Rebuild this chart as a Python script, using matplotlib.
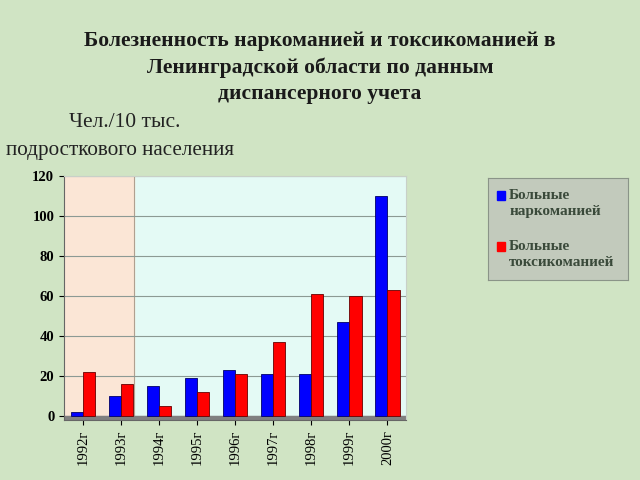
import matplotlib.pyplot as plt
import numpy as np

years = ['1992г', '1993г', '1994г', '1995г', '1996г', '1997г', '1998г', '1999г', '2000г']
narko = [2, 10, 15, 19, 23, 21, 21, 47, 110]
toksi = [22, 16, 5, 12, 21, 37, 61, 60, 63]

plt.rcParams['font.family'] = ['Liberation Serif', 'DejaVu Serif']

fig = plt.figure(figsize=(6.4, 4.8), dpi=100)
fig.patch.set_facecolor('#d0e4c4')

# title and units
fig.text(0.5, 0.86, 'Болезненность наркоманией и токсикоманией в\n'
         'Ленинградской области по данным\nдиспансерного учета',
         ha='center', va='center', fontsize=15.5, fontweight='bold',
         color='#1a1a1a', linespacing=1.42)
fig.text(0.108, 0.745, 'Чел./10 тыс.', fontsize=15.5, color='#222222', va='center')
fig.text(0.01, 0.687, 'подросткового населения', fontsize=15.2, color='#222222', va='center')

ax = fig.add_axes([0.1, 0.125, 0.535, 0.508])
ax.set_facecolor('#e4faf5')
x = np.arange(len(years))
w = 0.32

ax.axvspan(-0.5, 1.35, color='#fbe6d6', zorder=0)
ax.axvline(1.35, color='#b0a090', lw=0.8, zorder=0.5)
ax.axhspan(-2.2, 0, color='#808080', zorder=1)

ax.bar(x - w/2, narko, w, color='#0000ff', edgecolor='#000066', lw=0.6, zorder=3)
ax.bar(x + w/2, toksi, w, color='#ff0000', edgecolor='#660000', lw=0.6, zorder=3)

ax.set_xlim(-0.5, len(years) - 0.5)
ax.set_ylim(-2.2, 120)
ax.set_yticks(range(0, 121, 20))
ax.set_yticklabels([str(v) for v in range(0, 121, 20)], fontweight='bold', fontsize=10.5)
ax.set_xticks(x)
ax.set_xticklabels(years, rotation=90, fontsize=10.5)
ax.grid(axis='y', color='#8c9a94', lw=0.8, zorder=0.6)
ax.set_axisbelow(True)
for s in ['top', 'right']:
    ax.spines[s].set_color('#c8d0c8')
ax.spines['left'].set_color('#666666')
ax.spines['bottom'].set_color('#666666')

# legend box
lg = fig.add_axes([0.763, 0.417, 0.218, 0.212])
lg.set_xlim(0, 1)
lg.set_ylim(0, 1)
lg.set_facecolor('#c2cabc')
for s in lg.spines.values():
    s.set_color('#8a9488')
lg.set_xticks([])
lg.set_yticks([])
labels = ['Больные\nнаркоманией', 'Больные\nтоксикоманией']
cols = ['#0000ff', '#ff0000']
for i, (lab, c) in enumerate(zip(labels, cols)):
    yy = 0.84 - i * 0.5
    lg.add_patch(plt.Rectangle((0.06, yy - 0.06), 0.06, 0.09, color=c))
    lg.text(0.15, yy + 0.05, lab, va='top', fontsize=11, fontweight='bold',
            color='#3a4a3a', linespacing=1.3)

fig.savefig('out.png', dpi=100, facecolor=fig.get_facecolor())
